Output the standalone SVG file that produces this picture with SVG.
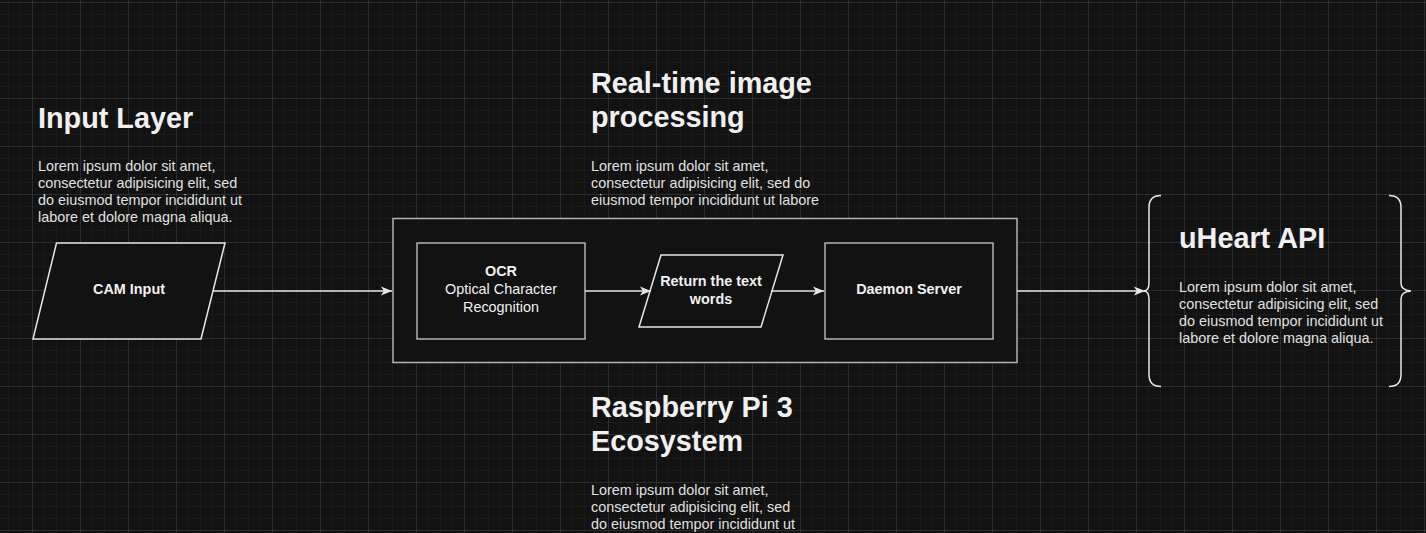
<svg xmlns="http://www.w3.org/2000/svg" width="1426" height="533" viewBox="0 0 1426 533">
<defs>
<pattern id="grid" x="32" y="2" width="48" height="48" patternUnits="userSpaceOnUse">
<path d="M12.5,0V48M24.5,0V48M36.5,0V48M0,12.5H48M0,24.5H48M0,36.5H48" stroke="#1a1a1a" stroke-width="1" fill="none"/>
<path d="M0.5,0V48M0,0.5H48" stroke="#2d2d2d" stroke-width="1" fill="none"/>
</pattern>
<marker id="arr" markerUnits="userSpaceOnUse" markerWidth="12" markerHeight="10" refX="11" refY="5" orient="auto">
<path d="M0,0.5 L11,5 L0,9.5 L2.8,5 Z" fill="#e6e6e6"/>
</marker>
</defs>
<style>
.title{font-family:"Liberation Sans",Arial,sans-serif;font-weight:bold;font-size:28.8px;fill:#f0f0f0}
.body{font-family:"Liberation Sans",Arial,sans-serif;font-size:14.4px;fill:#e0e0e0}
.lbl{font-family:"Liberation Sans",Arial,sans-serif;font-size:14.4px;fill:#f0f0f0;text-anchor:middle}
.b{font-weight:bold}
.box{fill:#121212;stroke:#b3b3b3;stroke-width:1.5}
.para{fill:#121212;stroke:#e6e6e6;stroke-width:1.5}
.edge{fill:none;stroke:#e6e6e6;stroke-width:1.5}
.brace{fill:none;stroke:#e6e6e6;stroke-width:1.5}
</style>
<rect width="1426" height="533" fill="#121212"/>
<rect width="1426" height="533" fill="url(#grid)"/>

<g id="input-layer-text">
<text class="title" x="38" y="128">Input Layer</text>
<text class="body" x="38" y="171">Lorem ipsum dolor sit amet,</text>
<text class="body" x="38" y="188">consectetur adipisicing elit, sed</text>
<text class="body" x="38" y="205">do eiusmod tempor incididunt ut</text>
<text class="body" x="38" y="222">labore et dolore magna aliqua.</text>
</g>

<g id="realtime-text">
<text class="title" x="591" y="92.5">Real-time image</text>
<text class="title" x="591" y="127">processing</text>
<text class="body" x="591" y="171">Lorem ipsum dolor sit amet,</text>
<text class="body" x="591" y="188">consectetur adipisicing elit, sed do</text>
<text class="body" x="591" y="205">eiusmod tempor incididunt ut labore</text>
</g>

<g id="container">
<rect class="box" x="393" y="218.5" width="624" height="144"/>
</g>

<g id="cam-input">
<polygon class="para" points="56.5,243 225,243 201,339 33,339"/>
<text class="lbl b" x="129" y="294">CAM Input</text>
</g>

<g id="ocr">
<rect class="box" x="417" y="243" width="168" height="96"/>
<text class="lbl b" x="501" y="276">OCR</text>
<text class="lbl" x="501" y="294">Optical Character</text>
<text class="lbl" x="501" y="311.5">Recognition</text>
</g>

<g id="return-text">
<polygon class="para" points="661,255 783,255 761,327 639,327"/>
<text class="lbl b" x="711" y="286">Return the text</text>
<text class="lbl b" x="711" y="303.5">words</text>
</g>

<g id="daemon">
<rect class="box" x="825" y="243" width="168" height="96"/>
<text class="lbl b" x="909" y="294">Daemon Server</text>
</g>

<g id="uheart">
<path class="brace" d="M1161,195.5 Q1149,195.5 1149,207.5 L1149,283 Q1149,290.5 1144,291 Q1149,291.5 1149,299 L1149,374.5 Q1149,386.5 1161,386.5"/>
<path class="brace" d="M1389,195.5 Q1401,195.5 1401,207.5 L1401,283 Q1401,290.5 1411,291 Q1401,291.5 1401,299 L1401,374.5 Q1401,386.5 1389,386.5"/>
<text class="title" x="1179" y="248">uHeart API</text>
<text class="body" x="1179" y="292">Lorem ipsum dolor sit amet,</text>
<text class="body" x="1179" y="309">consectetur adipisicing elit, sed</text>
<text class="body" x="1179" y="326">do eiusmod tempor incididunt ut</text>
<text class="body" x="1179" y="343">labore et dolore magna aliqua.</text>
</g>

<g id="raspberry-text">
<text class="title" x="591" y="416.5">Raspberry Pi 3</text>
<text class="title" x="591" y="451">Ecosystem</text>
<text class="body" x="591" y="494.5">Lorem ipsum dolor sit amet,</text>
<text class="body" x="591" y="511.5">consectetur adipisicing elit, sed</text>
<text class="body" x="591" y="528.5">do eiusmod tempor incididunt ut</text>
</g>

<g id="connectors">
<path class="edge" d="M213,291 H392" marker-end="url(#arr)"/>
<path class="edge" d="M585,291 H651" marker-end="url(#arr)"/>
<path class="edge" d="M771,291 H824" marker-end="url(#arr)"/>
<path class="edge" d="M1017,291 H1145" marker-end="url(#arr)"/>
</g>
</svg>
